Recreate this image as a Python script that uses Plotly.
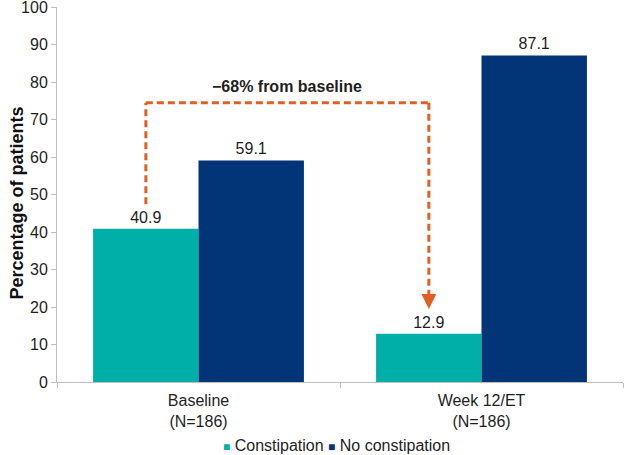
import plotly.graph_objects as go

categories = ["Baseline<br>(N=186)", "Week 12/ET<br>(N=186)"]
constipation = [40.9, 12.9]
no_constipation = [59.1, 87.1]
series_names = ["Constipation", "No constipation"]
y_title = "Percentage of patients"
change_label = "\u221268% from baseline"
arrow_top = 74.5
arrow_start = 47.4
arrow_end = 19.5

TEAL = "#00AFA8"
NAVY = "#023577"
ORANGE = "#DF6027"
TXT = "#1E1E1E"
FONT = "Liberation Sans, Arial, sans-serif"

fig = go.Figure()
fig.add_trace(go.Bar(x=categories, y=constipation, name=series_names[0],
                     marker=dict(color=TEAL, line=dict(width=0)),
                     text=[f"{v:.1f}" for v in constipation], textposition="outside",
                     textfont=dict(size=16, color=TXT), cliponaxis=False))
fig.add_trace(go.Bar(x=categories, y=no_constipation, name=series_names[1],
                     marker=dict(color=NAVY, line=dict(width=0)),
                     text=[f"{v:.1f}" for v in no_constipation], textposition="outside",
                     textfont=dict(size=16, color=TXT), cliponaxis=False))

off = -0.186  # centre of the first bar within each group
x_a = 0 + off
x_b = 1 + off
dash_style = dict(color=ORANGE, width=3, dash="7px,4px")
fig.add_shape(type="line", x0=x_a, x1=x_a, y0=arrow_start, y1=arrow_top, xref="x", yref="y", line=dash_style)
fig.add_shape(type="line", x0=x_a, x1=x_b, y0=arrow_top, y1=arrow_top, xref="x", yref="y", line=dash_style)
fig.add_shape(type="line", x0=x_b, x1=x_b, y0=arrow_top, y1=arrow_end + 1.5, xref="x", yref="y", line=dash_style)
fig.add_annotation(x=x_b, y=arrow_end, ax=x_b, ay=arrow_end + 2.5, xref="x", yref="y",
                   axref="x", ayref="y", showarrow=True, arrowhead=2, arrowsize=1.0,
                   arrowwidth=3, arrowcolor=ORANGE, text="")
fig.add_annotation(x=(x_a + x_b) / 2, y=78.8, xref="x", yref="y", showarrow=False,
                   text=f"<b>{change_label}</b>", font=dict(size=16, color=TXT, family=FONT))

# y-axis title
fig.add_annotation(x=-0.0724, y=0.476, xref="paper", yref="paper", showarrow=False,
                   textangle=-90, xanchor="center", yanchor="middle",
                   text=f"<b>{y_title}</b>", font=dict(size=18, color="#111111", family=FONT))

# legend drawn as text line
legend_text = (f'<span style="color:{TEAL};font-size:12px">\u25A0</span> {series_names[0]} '
               f'<span style="color:{NAVY};font-size:12px">\u25A0</span> {series_names[1]}')
fig.add_annotation(x=0.493, y=-0.168, xref="paper", yref="paper", showarrow=False,
                   xanchor="center", yanchor="middle", text=legend_text,
                   font=dict(size=16, color=TXT, family=FONT))

fig.update_layout(
    width=628, height=455,
    margin=dict(l=57, r=5, t=7, b=73),
    paper_bgcolor="white", plot_bgcolor="white",
    barmode="group", bargap=0.255, bargroupgap=0,
    font=dict(family=FONT, size=16, color=TXT),
    showlegend=False,
    xaxis=dict(showline=True, linecolor="#BFBFBF", linewidth=1, ticks="outside",
               tickson="boundaries", ticklen=5, tickcolor="#BFBFBF", automargin=False,
               ticklabelstandoff=4,
               tickfont=dict(size=16, color=TXT), showgrid=False),
    yaxis=dict(range=[0, 100], dtick=10, showline=True, linecolor="#BFBFBF", linewidth=1,
               ticks="outside", ticklen=5, tickcolor="#BFBFBF", showgrid=False,
               zeroline=False, automargin=False, ticklabeloverflow="allow",
               tickfont=dict(size=16, color=TXT)),
)

fig.write_html("out.html", config={"displayModeBar": False},
               post_script="document.body.style.margin='0';document.body.style.overflow='hidden';")
